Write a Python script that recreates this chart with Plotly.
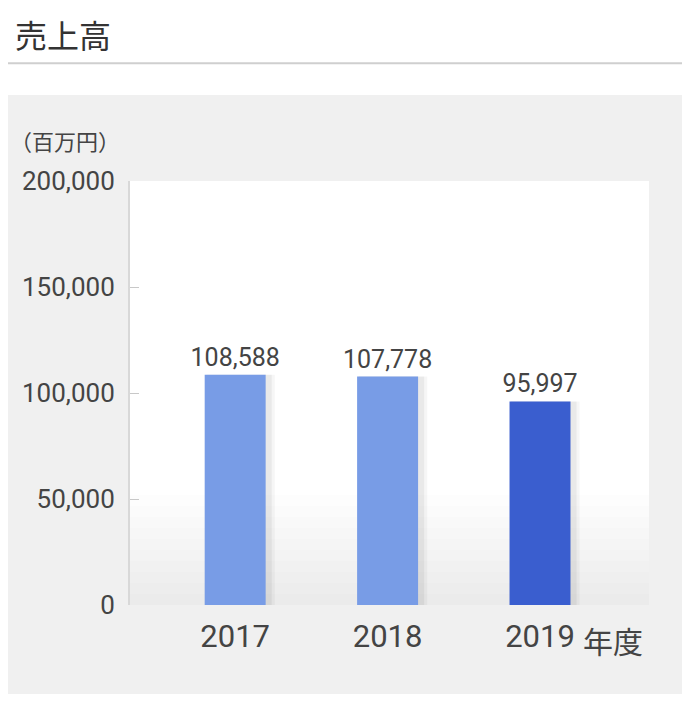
import plotly.graph_objects as go

# data
years = ["2017", "2018", "2019"]
sales = [108588, 107778, 95997]
labels = ["108,588", "107,778", "95,997"]
bar_colors = ["#789ce6", "#789ce6", "#3a5ecf"]
y_ticks = [0, 50000, 100000, 150000, 200000]
y_ticktext = ["0", "50,000", "100,000", "150,000", "200,000"]

num_font = "Roboto, 'Noto Sans CJK JP', sans-serif"
jp_font = "'Noto Sans CJK JP', sans-serif"
x_pos = list(range(len(years)))

fig = go.Figure()

# soft shadow on the right side of each bar
for off, w, a in [(-0.19, 0.45, 0.035), (-0.19, 0.43, 0.05)]:
    fig.add_trace(go.Bar(
        x=x_pos, y=sales, width=w, offset=off,
        marker=dict(color=f"rgba(0,0,0,{a})", line_width=0),
        hoverinfo="skip", showlegend=False
    ))

fig.add_trace(go.Bar(
    x=x_pos, y=sales, width=0.4, offset=-0.2,
    marker=dict(color=bar_colors, line_width=0),
    text=labels, textposition="outside", cliponaxis=False,
    constraintext="none",
    textfont=dict(family=num_font, size=25, color="#444"),
    showlegend=False
))

shapes = [
    # white header area above the gray panel
    dict(type="rect", xref="paper", yref="paper", x0=-0.4, x1=1.2, y0=1.203, y1=1.5,
         fillcolor="white", line_width=0, layer="below"),
    dict(type="line", xref="paper", yref="paper", x0=-0.4, x1=1.2, y0=1.278, y1=1.278,
         line=dict(color="#cfcfcf", width=2), layer="below"),
]
# light gray fade at the bottom of the plot area
for i in range(10):
    shapes.append(dict(type="rect", xref="paper", yref="paper", x0=0, x1=1,
                       y0=0, y1=0.26 - i * 0.026,
                       fillcolor="rgba(0,0,0,0.009)", line_width=0, layer="below"))

fig.update_layout(
    width=674, height=686,
    margin=dict(l=122, r=33, t=173, b=89),
    paper_bgcolor="#f0f0f0",
    plot_bgcolor="white",
    barmode="overlay",
    shapes=shapes,
    xaxis=dict(
        range=[-0.69, 2.715], tickvals=x_pos, ticktext=years,
        showgrid=False, zeroline=False, showline=False, ticks="",
        tickfont=dict(family=num_font, size=31, color="#444"),
        ticklabelstandoff=10
    ),
    yaxis=dict(
        range=[0, 200000], tickvals=y_ticks, ticktext=y_ticktext,
        showgrid=False, zeroline=False,
        showline=True, linecolor="#d8d8d8", linewidth=2,
        ticks="inside", ticklen=9, tickcolor="#c8c8c8", tickwidth=1,
        tickfont=dict(family=num_font, size=26, color="#444"),
        ticklabelstandoff=8
    ),
    annotations=[
        dict(text="売上高", xref="paper", yref="paper", x=-0.226, y=1.405,
             xanchor="left", yanchor="top", showarrow=False,
             font=dict(family=jp_font, size=32, color="#333")),
        dict(text="（百万円）", xref="paper", yref="paper", x=-0.235, y=1.097,
             xanchor="left", yanchor="middle", showarrow=False,
             font=dict(family=jp_font, size=22, color="#444")),
        dict(text="年度", xref="x", yref="paper", x=2.27, y=-0.083,
             xanchor="left", yanchor="middle", showarrow=False,
             font=dict(family=jp_font, size=30, color="#444")),
    ]
)

fig.write_html("out.html")
